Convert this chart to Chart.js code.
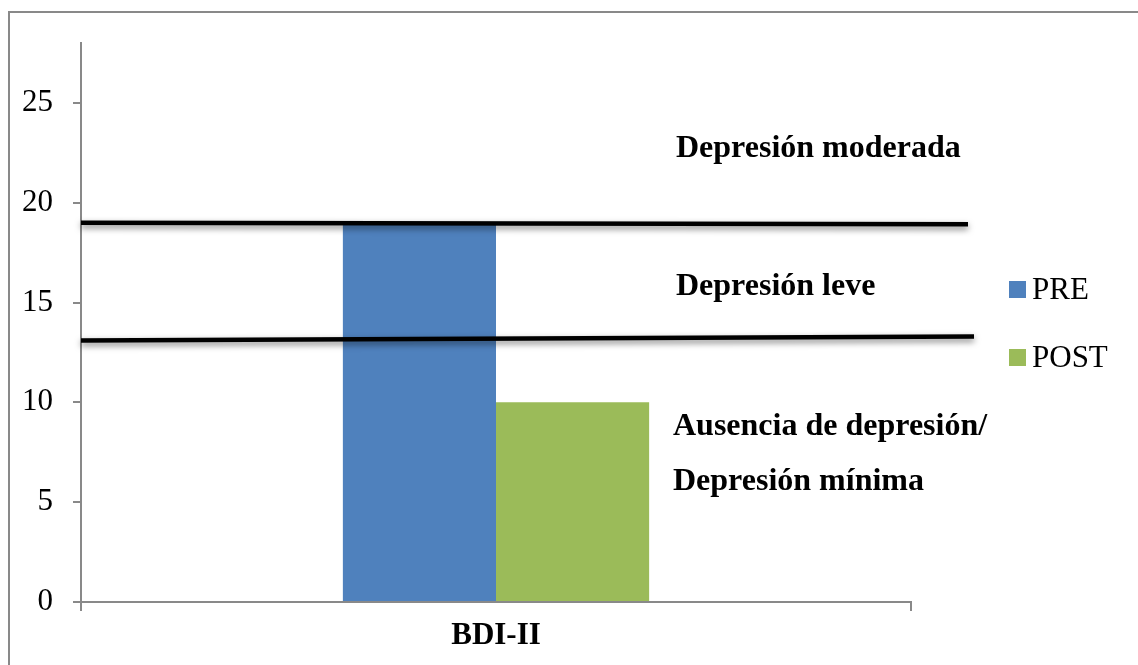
<!DOCTYPE html>
<html>
<head>
<meta charset="utf-8">
<script src="https://cdn.jsdelivr.net/npm/chart.js@4/dist/chart.umd.min.js"></script>
<style>
  html, body { margin: 0; padding: 0; background: #ffffff; overflow: hidden; }
  canvas { display: block; }
</style>
</head>
<body>
<canvas id="chart" width="1138" height="665"></canvas>
<script>
// BDI-II scores before and after treatment
const categories = ['BDI-II'];
const seriesNames = ['PRE', 'POST'];
const preValues = [19];
const postValues = [10];
const seriesColors = ['#4F81BD', '#9BBB59'];

// Y axis range and tick step
const yMin = 0;
const yMax = 28;
const yStep = 5;

// Severity cut-off lines (value at left end, value at right end)
const cutoffStart = [19.0, 13.1];
const cutoffEnd = [18.92, 13.3];

// Severity band labels and the values where their baselines sit
const bandLines = ['Depresión moderada', 'Depresión leve', 'Ausencia de depresión/', 'Depresión mínima'];
const bandValues = [22.3, 15.4, 8.35, 5.6];

const serif = "'Liberation Serif', 'Times New Roman', serif";
const axisGrey = '#898989';

// Outer frame and severity annotations
const decorations = {
  id: 'decorations',
  beforeDraw(chart) {
    const ctx = chart.ctx;
    ctx.save();
    ctx.fillStyle = '#ffffff';
    ctx.fillRect(0, 0, chart.width, chart.height);
    ctx.strokeStyle = axisGrey;
    ctx.lineWidth = 2;
    ctx.beginPath();
    ctx.moveTo(9, chart.height + 5);
    ctx.lineTo(9, 12);
    ctx.lineTo(chart.width + 5, 12);
    ctx.stroke();
    ctx.restore();
  },
  afterDatasetsDraw(chart) {
    const ctx = chart.ctx;
    const y = chart.scales.y;
    const area = chart.chartArea;
    const lineEnds = [area.right + 57, area.right + 63];
    ctx.save();
    ctx.strokeStyle = '#000000';
    ctx.lineWidth = 4.5;
    ctx.lineCap = 'butt';
    ctx.shadowColor = 'rgba(0,0,0,0.5)';
    ctx.shadowBlur = 6;
    ctx.shadowOffsetY = 3;
    cutoffStart.forEach((v, i) => {
      ctx.beginPath();
      ctx.moveTo(area.left, y.getPixelForValue(v));
      ctx.lineTo(lineEnds[i], y.getPixelForValue(cutoffEnd[i]));
      ctx.stroke();
    });
    ctx.restore();

    ctx.save();
    ctx.fillStyle = '#000000';
    ctx.font = 'bold 32px ' + serif;
    ctx.textAlign = 'left';
    ctx.textBaseline = 'alphabetic';
    const xs = [676, 676, 673, 673];
    bandLines.forEach((t, i) => {
      ctx.fillText(t, xs[i], y.getPixelForValue(bandValues[i]));
    });
    ctx.restore();

    // legend
    ctx.save();
    const mid = (area.top + area.bottom) / 2 + 1;
    const spacing = 68;
    ctx.font = '31px ' + serif;
    ctx.textBaseline = 'middle';
    chart.data.datasets.forEach((ds, i) => {
      const cy = mid + (i - (chart.data.datasets.length - 1) / 2) * spacing;
      ctx.fillStyle = ds.backgroundColor;
      ctx.fillRect(1009, cy - 8.5, 17, 17);
      ctx.fillStyle = '#000000';
      ctx.fillText(ds.label, 1032, cy + 1);
    });
    ctx.restore();
  }
};

new Chart(document.getElementById('chart'), {
  type: 'bar',
  data: {
    labels: categories,
    datasets: [
      { label: seriesNames[0], data: preValues, backgroundColor: seriesColors[0] },
      { label: seriesNames[1], data: postValues, backgroundColor: seriesColors[1] }
    ]
  },
  options: {
    responsive: false,
    animation: false,
    devicePixelRatio: 1,
    categoryPercentage: 0.369,
    barPercentage: 1.0,
    layout: { padding: { top: 43, right: 227, left: 0, bottom: 0 } },
    plugins: {
      legend: { display: false },
      tooltip: { enabled: false }
    },
    scales: {
      x: {
        offset: true,
        grid: {
          display: true,
          offset: true,
          drawOnChartArea: false,
          drawTicks: true,
          tickLength: 9,
          color: axisGrey,
          lineWidth: 2
        },
        border: { display: true, color: axisGrey, width: 2 },
        ticks: {
          color: '#000000',
          padding: 6,
          font: { family: serif, size: 31, weight: 'bold' }
        },
        afterFit(scale) { scale.height = 63; }
      },
      y: {
        min: yMin,
        max: yMax,
        ticks: {
          stepSize: yStep,
          includeBounds: false,
          color: '#000000',
          padding: 20,
          font: { family: serif, size: 31 }
        },
        afterBuildTicks(scale) {
          scale.ticks = scale.ticks.filter(t => t.value % yStep === 0);
        },
        grid: {
          display: true,
          drawOnChartArea: false,
          drawTicks: true,
          tickLength: 8,
          color: axisGrey,
          lineWidth: 2
        },
        border: { display: true, color: axisGrey, width: 2 },
        afterFit(scale) { scale.width = 81; }
      }
    }
  },
  plugins: [decorations]
});
</script>
</body>
</html>
